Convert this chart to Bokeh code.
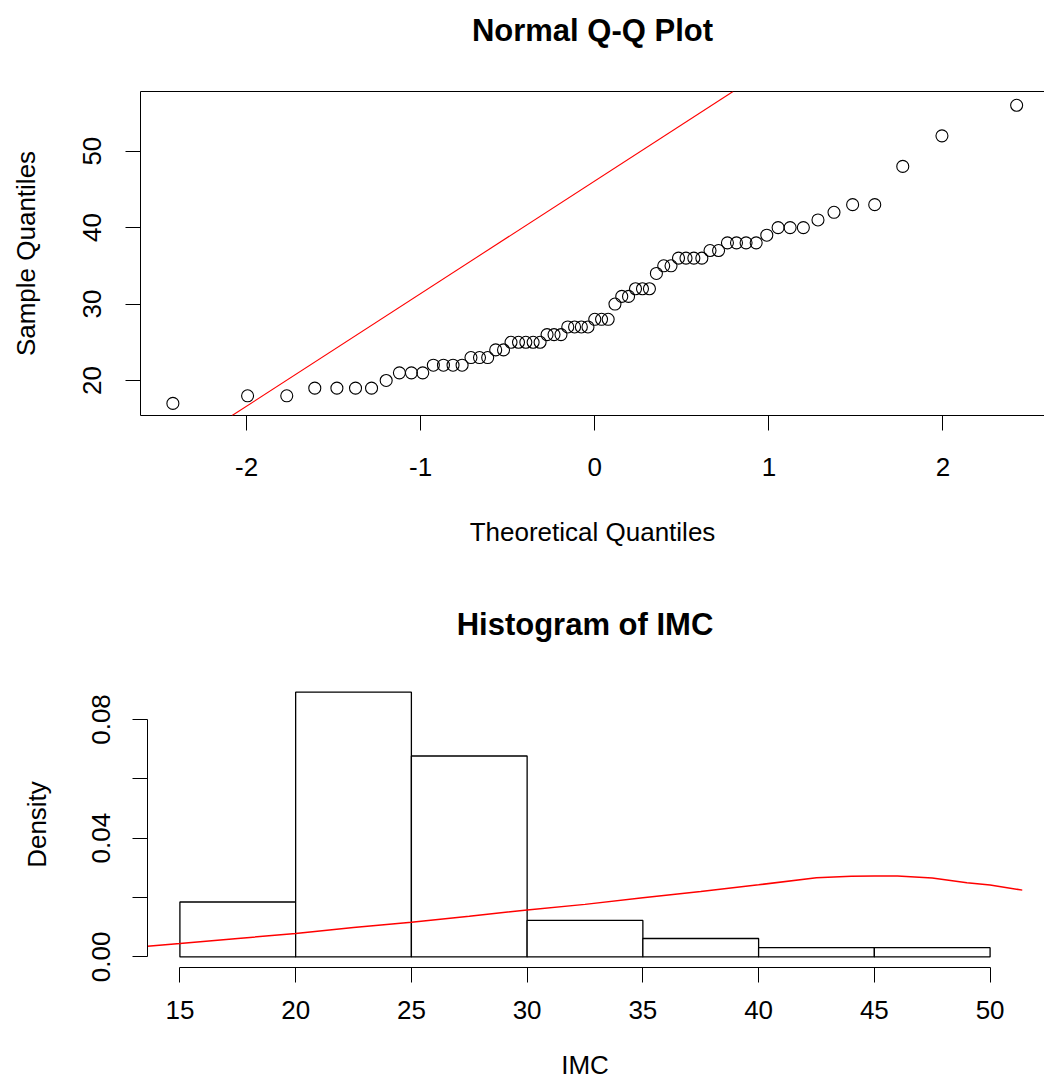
from bokeh.plotting import figure
from bokeh.models import (LinearAxis, FixedTicker, NumeralTickFormatter, Slope,
                          Range1d, ColumnDataSource)
from bokeh.layouts import column
from bokeh.embed import file_html
from bokeh.resources import INLINE

FONT = "Liberation Sans"

# ---------------- data ----------------
theoretical_q = [-2.423, -1.994, -1.769, -1.608, -1.481, -1.374, -1.282, -1.198,
                 -1.122, -1.053, -0.988, -0.927, -0.869, -0.814, -0.762, -0.711,
                 -0.662, -0.615, -0.569, -0.524, -0.481, -0.438, -0.396, -0.354,
                 -0.314, -0.274, -0.234, -0.194, -0.155, -0.116, -0.077, -0.039,
                 0.0,
                 0.039, 0.077, 0.116, 0.155, 0.194, 0.234, 0.274, 0.314,
                 0.354, 0.396, 0.438, 0.481, 0.524, 0.569, 0.615, 0.662,
                 0.711, 0.762, 0.814, 0.869, 0.927, 0.988, 1.053, 1.122,
                 1.198, 1.282, 1.374, 1.481, 1.608, 1.769, 1.994, 2.423]
sample_q = [17, 18, 18, 19, 19, 19, 19, 20, 21, 21, 21, 22, 22, 22, 22, 23,
            23, 23, 24, 24, 25, 25, 25, 25, 25, 26, 26, 26, 27, 27, 27, 27,
            28, 28, 28, 30, 31, 31, 32, 32, 32, 34, 35, 35, 36, 36, 36, 36,
            37, 37, 38, 38, 38, 38, 39, 40, 40, 40, 41, 42, 43, 43, 48, 52, 56]
qq_line_intercept = 46.1
qq_line_slope = 14.73
qq_x_ticks = [-2, -1, 0, 1, 2]
qq_x_tick_labels = ["-2", "-1", "0", "1", "2"]
qq_y_ticks = [20, 30, 40, 50]
qq_title = "Normal Q-Q Plot"

hist_left = [15, 20, 25, 30, 35, 40, 45]
hist_right = [20, 25, 30, 35, 40, 45, 50]
hist_density = [0.0185, 0.0892, 0.0677, 0.0123, 0.0062, 0.0031, 0.0031]
hist_x_ticks = [15, 20, 25, 30, 35, 40, 45, 50]
hist_y_ticks = [0.0, 0.04, 0.08]
hist_y_minor = [0.02, 0.06]
hist_title = "Histogram of IMC"

curve_x = [13.6, 15, 17.5, 20, 22.5, 25, 27.5, 30, 32.5, 35, 37.5, 40,
           42.5, 44, 45, 46, 47.5, 49, 50, 51.4]
curve_y = [0.0036, 0.0045, 0.0062, 0.0079, 0.0099, 0.0117, 0.0137, 0.0158,
           0.0177, 0.0199, 0.0220, 0.0243, 0.0267, 0.0272, 0.0273, 0.0273,
           0.0266, 0.0250, 0.0242, 0.0225]

LABEL_PX = "26px"
TITLE_PX = "31px"


def make_axis(ticker, tick_out=15, label_standoff=20, axis_label=None,
              axis_label_standoff=36, bounds="auto", vertical=False):
    ax = LinearAxis(ticker=ticker, bounds=bounds)
    ax.axis_line_color = "black"
    ax.axis_line_width = 1
    ax.major_tick_line_color = "black"
    ax.major_tick_out = tick_out
    ax.major_tick_in = 0
    ax.minor_tick_line_color = "black"
    ax.minor_tick_out = tick_out
    ax.minor_tick_in = 0
    ax.major_label_text_font = FONT
    ax.major_label_text_font_size = LABEL_PX
    ax.major_label_text_color = "black"
    ax.major_label_standoff = label_standoff
    if vertical:
        ax.major_label_orientation = "vertical"
    if axis_label:
        ax.axis_label = axis_label
        ax.axis_label_text_font = FONT
        ax.axis_label_text_font_size = LABEL_PX
        ax.axis_label_text_font_style = "normal"
        ax.axis_label_text_color = "black"
        ax.axis_label_standoff = axis_label_standoff
    return ax


def title_axis(text, standoff, line_color):
    # tick-less axis above the frame: its line is the frame's top edge (or
    # nothing) and its axis label is the chart title, centred over the frame
    return LinearAxis(ticker=FixedTicker(ticks=[]), axis_line_color=line_color,
                      major_tick_line_color=None, minor_tick_line_color=None,
                      major_tick_out=0, minor_tick_out=0,
                      major_tick_in=0, minor_tick_in=0,
                      major_label_standoff=0,
                      axis_label=text, axis_label_text_font=FONT,
                      axis_label_text_font_size=TITLE_PX,
                      axis_label_text_font_style="bold",
                      axis_label_text_color="black",
                      axis_label_standoff=standoff)


def no_frame_align(p):
    try:
        p.frame_align = False
    except Exception:
        pass


# ---------------- Q-Q plot ----------------
H1 = 560
p1 = figure(width=1044, height=H1, output_backend="svg", toolbar_location=None,
            x_range=Range1d(-2.609, 2.583), y_range=Range1d(15.42, 57.8),
            x_axis_type=None, y_axis_type=None,
            min_border_left=140, min_border_right=0,
            min_border_top=91, min_border_bottom=H1 - 415)
no_frame_align(p1)
p1.outline_line_color = None
p1.xgrid.visible = False
p1.ygrid.visible = False
p1.background_fill_color = "white"
p1.border_fill_color = "white"

xax = make_axis(FixedTicker(ticks=qq_x_ticks), label_standoff=27,
                axis_label="Theoretical Quantiles", axis_label_standoff=38)
xax.major_label_overrides = dict(zip(qq_x_ticks, qq_x_tick_labels))
yax = make_axis(FixedTicker(ticks=qq_y_ticks), label_standoff=24,
                axis_label="Sample Quantiles", axis_label_standoff=40,
                vertical=True)
p1.add_layout(xax, "below")
p1.add_layout(yax, "left")
p1.add_layout(title_axis(qq_title, 44, "black"), "above")

qq_src = ColumnDataSource(dict(x=theoretical_q, y=sample_q))
p1.scatter("x", "y", source=qq_src, marker="circle", size=12,
           fill_color=None, line_color="black", line_width=1.1)
p1.add_layout(Slope(gradient=qq_line_slope, y_intercept=qq_line_intercept,
                    line_color="red", line_width=1.1))

# ---------------- Histogram ----------------
H2 = 1083 - H1
p2 = figure(width=1044, height=H2, output_backend="svg", toolbar_location=None,
            x_range=Range1d(13.6, 51.4), y_range=Range1d(-0.00357, 0.0928),
            x_axis_type=None, y_axis_type=None,
            min_border_left=147, min_border_right=22,
            min_border_top=681 - H1, min_border_bottom=H2 - (681 - H1) - 286)
no_frame_align(p2)
p2.outline_line_color = None
p2.xgrid.visible = False
p2.ygrid.visible = False
p2.background_fill_color = "white"
p2.border_fill_color = "white"

hx = make_axis(FixedTicker(ticks=hist_x_ticks), label_standoff=18,
               axis_label="IMC", axis_label_standoff=28, bounds=(15, 50))
hy = make_axis(FixedTicker(ticks=hist_y_ticks, minor_ticks=hist_y_minor),
               label_standoff=22, axis_label="Density",
               axis_label_standoff=38, bounds=(0, 0.08), vertical=True)
hy.formatter = NumeralTickFormatter(format="0.00")
p2.add_layout(hx, "below")
p2.add_layout(hy, "left")
p2.add_layout(title_axis(hist_title, 40, None), "above")

h_src = ColumnDataSource(dict(left=hist_left, right=hist_right,
                              top=hist_density,
                              bottom=[0] * len(hist_density)))
p2.quad(left="left", right="right", top="top", bottom="bottom", source=h_src,
        fill_color="white", line_color="black", line_width=1.3)
p2.line(curve_x, curve_y, line_color="red", line_width=1.5)

layout = column(p1, p2, spacing=0)
open("out.html", "w").write(file_html(layout, INLINE))
